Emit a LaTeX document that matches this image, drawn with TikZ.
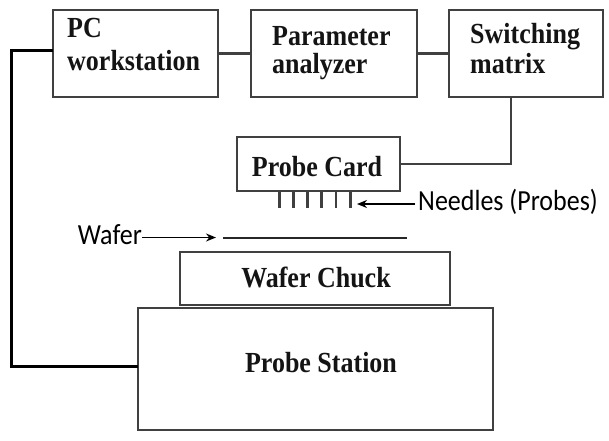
\documentclass[tikz,border=0pt]{standalone}
\usepackage{fontspec}
\usepackage{graphicx}
\setmainfont{Liberation Serif}
\newfontfamily\labelfont{Carlito}
\usetikzlibrary{arrows.meta}
\definecolor{edge}{HTML}{404040}
\newcommand{\vstretch}[1]{\scalebox{1}[1.12]{#1}}
\begin{document}
\begin{tikzpicture}[x=1pt,y=-1pt,
  box/.style={draw=edge, line width=2.4pt, inner sep=0pt, outer sep=0pt, fill=white},
  btext/.style={font=\fontsize{26}{30}\selectfont\bfseries, inner sep=0pt, text=black!92},
  ltext/.style={font=\labelfont\fontsize{26}{30}\selectfont, inner sep=0pt},
  conn/.style={draw=edge, line width=2.6pt},
  needle/.style={draw=black!75, line width=2.6pt},
  pointer/.style={draw=black, line width=1.6pt, -{Stealth[length=10pt,width=8pt]}}]
\useasboundingbox (0,0) rectangle (609,440);
% boxes
\node[box, minimum width=165pt, minimum height=87pt] (pc) at (135.5,53.5) {};
\node[box, minimum width=166pt, minimum height=87pt] (pa) at (334,53.5) {};
\node[box, minimum width=154pt, minimum height=87pt] (sw) at (526,53.5) {};
\node[box, minimum width=163pt, minimum height=54pt] (card) at (318.5,164) {};
\node[box, minimum width=355pt, minimum height=122pt] (station) at (315.5,369) {};
\node[box, minimum width=270pt, minimum height=53pt] (chuck) at (315,278.5) {};
% box texts
\node[btext, anchor=base west] (t1) at (67,37) {\vstretch{PC}};
\node[btext, anchor=base west] (t2) at (67,70) {\vstretch{workstation}};
\node[btext, anchor=base west] (t3) at (272,45) {\vstretch{Parameter}};
\node[btext, anchor=base west] (t4) at (272,73) {\vstretch{analyzer}};
\node[btext, anchor=base west] (t5) at (470,43) {\vstretch{Switching}};
\node[btext, anchor=base west] (t6) at (470,73) {\vstretch{matrix}};
\node[btext, anchor=base] (t7) at (317,176) {\vstretch{Probe Card}};
\node[btext, anchor=base] (t8) at (316,287) {\vstretch{Wafer Chuck}};
\node[btext, anchor=base] (t9) at (321,372) {\vstretch{Probe Station}};
% connectors
\draw[conn] (pc) -- (pa);
\draw[conn] (pa) -- (sw);
\draw[conn] ([xshift=-15pt]sw.south) |- (card.east);
\draw[draw=black, line width=3pt] ([yshift=3pt]pc.west) -- ++(-42,0) coordinate (c1) |- ([yshift=3pt]station.west);
% needles
\foreach \x [count=\i] in {279.5,293.5,307.5,321.5,336,350.5} {
  \coordinate (n\i) at (\x,192);
  \draw[needle] (n\i) -- ++(0,16);
}
% wafer
\coordinate (w1) at (223,237.5);
\coordinate (w2) at (407,237.5);
\draw[draw=black!85, line width=2pt] (w1) -- (w2);
% labels
\node[ltext, anchor=base west] (needles) at (418,210) {\vstretch{Needles (Probes)}};
\coordinate (na) at (357,204);
\draw[pointer] (needles.west |- na) ++(-3,0) -- (na);
\node[ltext, anchor=base east] (wafer) at (142,244) {\vstretch{Wafer}};
\coordinate (wa) at (216,237.5);
\draw[pointer] (wafer.east |- wa) -- (wa);
\end{tikzpicture}
\end{document}
